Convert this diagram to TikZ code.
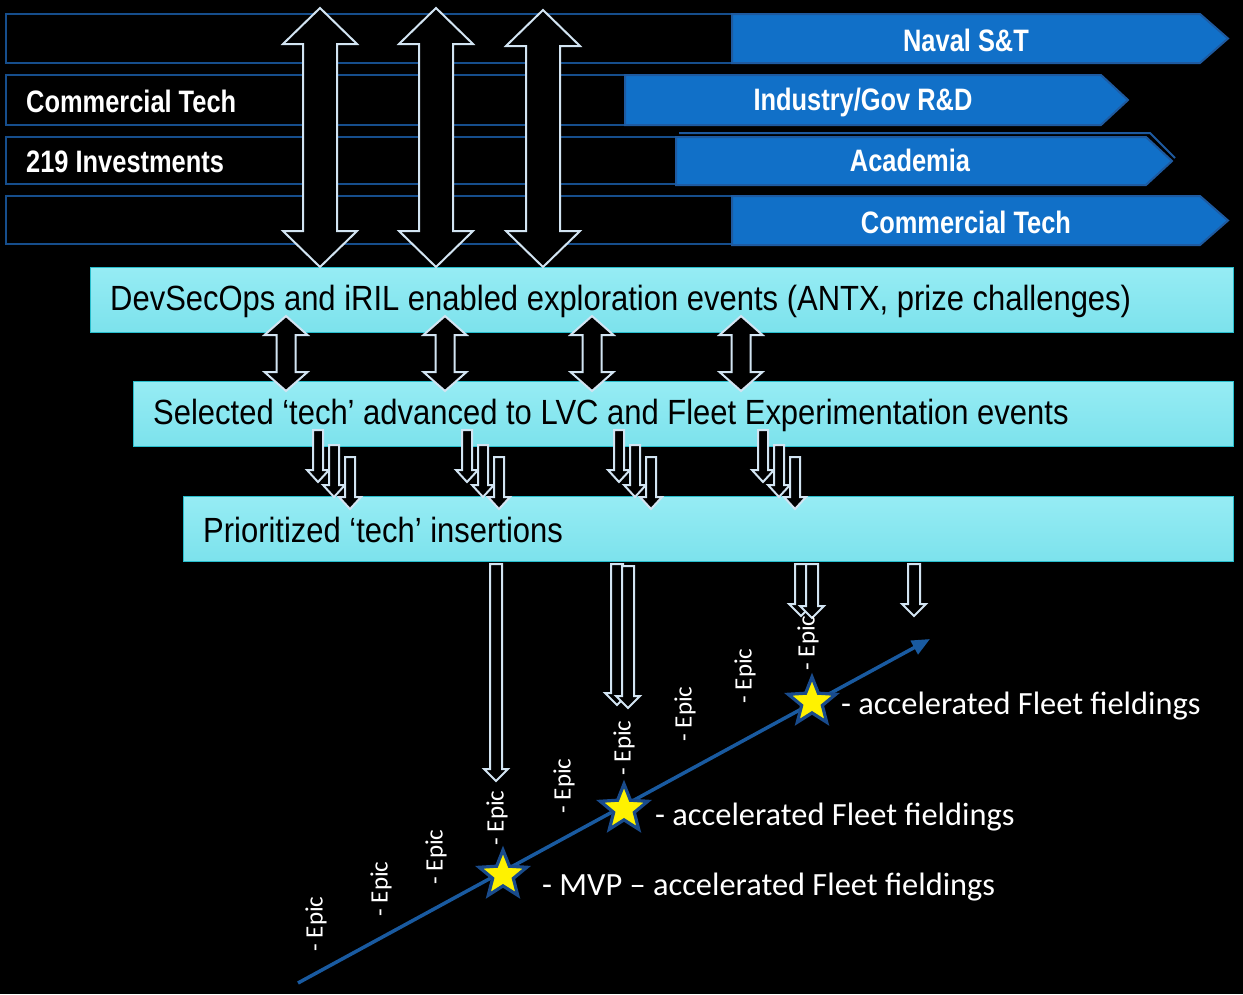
\documentclass[tikz,border=0pt]{standalone}
\usepackage{fontspec}
\setmainfont{Liberation Sans}
\newfontfamily\narrowfont{Liberation Sans}[FakeStretch=0.82]
\newfontfamily\boxfont{Liberation Sans}[FakeStretch=0.885]
\newfontfamily\calfont{Carlito}
\usetikzlibrary{shapes.geometric,arrows.meta}
\definecolor{rowline}{RGB}{22,78,140}
\definecolor{bluefill}{RGB}{17,112,200}
\definecolor{blueedge}{RGB}{30,90,160}
\definecolor{cyanA}{RGB}{150,236,244}
\definecolor{cyanB}{RGB}{124,226,236}
\definecolor{cyanedge}{RGB}{40,190,205}
\definecolor{arrowedge}{RGB}{210,228,242}
\definecolor{starblue}{RGB}{25,75,140}
\definecolor{tlblue}{RGB}{25,90,160}
\newcommand\dblarr[6]{%
  \draw[arrowline] (#1,#2) -- (#1+#5,#2+#6) -- (#1+#4,#2+#6) -- (#1+#4,#3-#6) -- (#1+#5,#3-#6) -- (#1,#3)
    -- (#1-#5,#3-#6) -- (#1-#4,#3-#6) -- (#1-#4,#2+#6) -- (#1-#5,#2+#6) -- cycle;}
\newcommand\downarr[6]{%
  \draw[arrowline] (#1-#4,#2) -- (#1+#4,#2) -- (#1+#4,#3-#6) -- (#1+#5,#3-#6) -- (#1,#3)
    -- (#1-#5,#3-#6) -- (#1-#4,#3-#6) -- cycle;}
\newcommand\bluepent[5]{% x0, xp, xt, y0, y1
  \filldraw[bluearrow] (#1,#4) -- (#2,#4) -- (#3,{(#4+#5)/2}) -- (#2,#5) -- (#1,#5) -- cycle;}
\begin{document}
\begin{tikzpicture}[x=1pt,y=-1pt,
  rowbox/.style={draw=rowline, line width=2.5pt},
  bluearrow/.style={fill=bluefill, draw=blueedge, line width=2pt, line join=miter},
  arrowline/.style={draw=arrowedge, fill=black, line width=2pt, line join=miter},
  cyanbox/.style={draw=cyanedge, line width=1pt, top color=cyanA, bottom color=cyanB, inner sep=0pt, anchor=north west},
  whitelbl/.style={text=white, inner sep=0pt, font=\narrowfont\bfseries\fontsize{31}{36}\selectfont},
  boxlbl/.style={text=black, inner sep=0pt, anchor=west, font=\boxfont\fontsize{35}{40}\selectfont},
  fieldlbl/.style={text=white, inner sep=0pt, anchor=west, font=\calfont\fontsize{32.4}{38}\selectfont},
  epiclbl/.style={text=white, inner sep=0pt, rotate=90, font=\calfont\fontsize{25}{30}\selectfont},
  starnode/.style={star, star points=5, star point ratio=2.3, minimum size=50pt, inner sep=0pt, fill=yellow, draw=starblue, line width=3.2pt}
]
\fill[black] (0,0) rectangle (1243,994);
\useasboundingbox (0,0) rectangle (1243,994);

% rows
\draw[rowbox] (6,14) rectangle (732,63);
\draw[rowbox] (6,75) rectangle (625,125);
\draw[rowbox] (6,137) rectangle (676,184);
\draw[rowbox] (6,196) rectangle (732,244);

\bluepent{732}{1200}{1228}{14}{63}
\bluepent{625}{1101}{1128}{75}{125}
\draw[blueedge, line width=2pt] (679,133) -- (1150,133) -- (1175,158);
\bluepent{676}{1146}{1172}{137}{185}
\bluepent{732}{1200}{1228}{196}{245}

\node[whitelbl] (naval) at (966,40) {Naval S\&T};
\node[whitelbl] (indgov) at (863,102) {Industry/Gov R\&D};
\node[whitelbl] (acad) at (910,160) {Academia};
\node[whitelbl] (comm2) at (966,222) {Commercial Tech};
\node[whitelbl, anchor=west] (comm1) at (26,101) {Commercial Tech};
\node[whitelbl, anchor=west] (inv) at (26,162) {219 Investments};

% cyan boxes
\node[cyanbox, minimum width=1143pt, minimum height=65pt] (box1) at (90,267) {};
\node[cyanbox, minimum width=1100pt, minimum height=65pt] (box2) at (133,381) {};
\node[cyanbox, minimum width=1050pt, minimum height=65pt] (box3) at (183,496) {};
\node[boxlbl] (t1) at (110,301) {DevSecOps and iRIL enabled exploration events (ANTX, prize challenges)};
\node[boxlbl] (t2) at (153,415) {Selected ‘tech’ advanced to LVC and Fleet Experimentation events};
\node[boxlbl] (t3) at (203,530) {Prioritized ‘tech’ insertions};

% big double arrows
\dblarr{320}{8}{267}{17}{37}{36}
\dblarr{436}{8}{267}{17}{37}{36}
\dblarr{543}{10}{267}{17}{37}{36}

% medium double arrows
\dblarr{286}{316}{391}{9.5}{21.5}{19}
\dblarr{445}{316}{391}{9.5}{21.5}{19}
\dblarr{592}{316}{391}{9.5}{21.5}{19}
\dblarr{741}{316}{391}{9.5}{21.5}{19}

% small arrow groups
\foreach \gx in {318,467,619,763}{
  \downarr{\gx}{430}{482}{5}{11}{12}
  \downarr{\gx+16}{445}{497}{5}{11}{12}
  \downarr{\gx+32}{457}{509}{5}{11}{12}
}

% long arrows below
\downarr{496}{564}{781}{6}{12}{12}
\downarr{617}{564}{705}{6}{12}{12}
\downarr{628}{566}{708}{6}{12}{12}
\downarr{801}{564}{616}{6}{12}{12}
\downarr{812}{564}{618}{6}{12}{12}
\downarr{914}{564}{616}{6}{12}{12}

% timeline
\coordinate (tl0) at (298,983);
\coordinate (tl1) at (930,639);
\draw[tlblue, line width=3.5pt, -{Triangle[length=18pt,width=15pt]}] (tl0) -- (tl1);

\node[starnode] (s1) at (503,875) {};
\node[starnode] (s2) at (624,809) {};
\node[starnode] (s3) at (812,702) {};

\node[fieldlbl] (f1) at (542,887) {- MVP – accelerated Fleet fieldings};
\node[fieldlbl] (f2) at (655,817) {- accelerated Fleet fieldings};
\node[fieldlbl] (f3) at (841,706) {- accelerated Fleet fieldings};

\node[epiclbl] (e1) at (316,924) {- Epic};
\node[epiclbl] (e2) at (381,889) {- Epic};
\node[epiclbl] (e3) at (436,857) {- Epic};
\node[epiclbl] (e4) at (497,818) {- Epic};
\node[epiclbl] (e5) at (564,786) {- Epic};
\node[epiclbl] (e6) at (624,748) {- Epic};
\node[epiclbl] (e7) at (685,714) {- Epic};
\node[epiclbl] (e8) at (745,676) {- Epic};
\node[epiclbl] (e9) at (808,643) {- Epic};
\end{tikzpicture}
\end{document}
